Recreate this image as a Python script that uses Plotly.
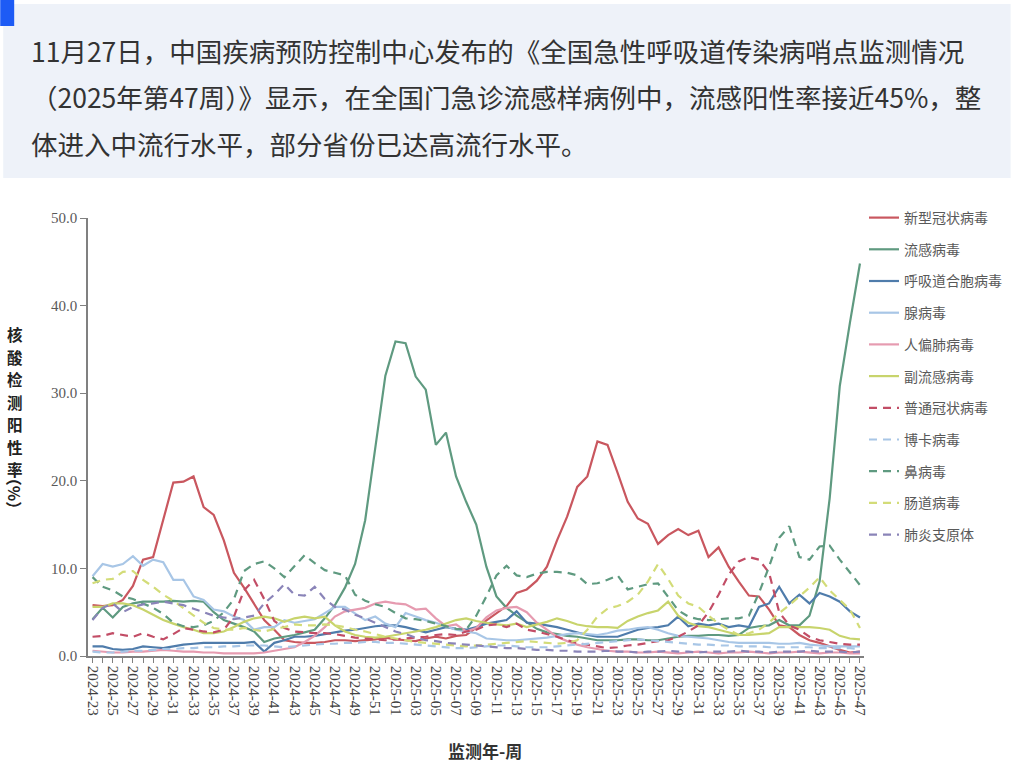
import plotly.graph_objects as go

weeks = ["2024-23","2024-24","2024-25","2024-26","2024-27","2024-28","2024-29","2024-30","2024-31","2024-32",
         "2024-33","2024-34","2024-35","2024-36","2024-37","2024-38","2024-39","2024-40","2024-41","2024-42",
         "2024-43","2024-44","2024-45","2024-46","2024-47","2024-48","2024-49","2024-50","2024-51","2024-52",
         "2025-01","2025-02","2025-03","2025-04","2025-05","2025-06","2025-07","2025-08","2025-09","2025-10",
         "2025-11","2025-12","2025-13","2025-14","2025-15","2025-16","2025-17","2025-18","2025-19","2025-20",
         "2025-21","2025-22","2025-23","2025-24","2025-25","2025-26","2025-27","2025-28","2025-29","2025-30",
         "2025-31","2025-32","2025-33","2025-34","2025-35","2025-36","2025-37","2025-38","2025-39","2025-40",
         "2025-41","2025-42","2025-43","2025-44","2025-45","2025-46","2025-47"]

covid = [5.8,5.7,5.8,6.4,8.0,11.0,11.3,15.5,19.8,19.9,
         20.5,17.0,16.1,13.2,9.5,7.8,6.0,4.1,3.0,1.8,
         1.6,1.5,1.5,1.6,1.8,1.8,1.7,1.8,1.9,2.1,
         1.9,1.8,1.7,2.0,2.2,2.0,2.3,2.4,3.2,4.1,
         4.9,5.7,7.2,7.6,8.6,10.2,13.2,15.9,19.3,20.5,
         24.5,24.1,20.9,17.6,15.7,15.1,12.8,13.8,14.5,13.8,
         14.3,11.3,12.4,10.2,8.5,6.9,6.8,5.3,3.5,3.3,
         2.4,1.8,1.5,1.1,0.7,0.4,0.5]

flu = [4.2,5.5,4.4,5.6,6.0,6.2,6.2,6.2,6.3,6.2,
       6.3,6.2,5.0,4.1,3.7,3.3,2.8,1.6,2.0,2.2,
       2.4,2.7,3.0,4.3,5.8,7.8,10.5,15.5,24.0,32.0,
       35.9,35.7,31.9,30.4,24.1,25.5,20.5,17.6,15.0,10.2,
       6.8,5.5,4.6,3.9,3.1,2.7,2.5,2.3,2.2,2.0,
       1.8,1.8,1.8,1.9,1.9,1.8,1.8,2.0,2.2,2.3,
       2.3,2.4,2.4,2.3,2.4,3.2,3.4,3.5,4.1,3.5,
       3.5,4.6,8.5,18.0,30.8,38.0,44.8]

rsv = [1.1,1.1,0.8,0.7,0.8,1.1,1.0,0.9,1.1,1.3,
       1.4,1.5,1.5,1.5,1.5,1.5,1.6,0.5,1.5,1.8,
       2.2,2.2,2.3,2.5,2.7,2.9,3.0,3.2,3.4,3.5,
       3.5,3.3,3.0,2.7,3.0,3.3,3.1,3.0,3.3,3.7,
       3.9,4.1,5.1,3.8,3.7,3.5,3.3,3.0,2.7,2.4,
       2.2,2.2,2.2,2.6,3.0,3.2,3.3,3.5,4.5,3.4,
       3.7,3.5,3.7,3.3,3.5,3.3,5.6,6.0,7.9,6.0,
       7.0,6.0,7.2,6.8,6.2,5.1,4.4]

adeno = [9.1,10.5,10.2,10.5,11.4,10.3,11.0,10.7,8.7,8.7,
         6.8,6.4,5.3,5.1,4.5,4.1,3.0,3.3,3.3,4.1,
         3.8,4.0,4.2,4.9,5.6,5.6,4.9,4.1,4.5,3.7,
         3.3,4.9,4.5,4.1,3.8,3.4,3.0,2.8,2.6,2.0,
         1.9,1.8,1.8,1.9,2.0,2.1,2.3,2.5,2.6,2.5,
         2.4,2.6,2.9,3.0,3.2,3.3,3.0,2.6,2.3,2.2,
         2.1,2.0,1.8,1.6,1.5,1.5,1.5,1.5,1.4,1.4,
         1.5,1.3,1.2,1.1,1.1,1.1,1.1]

hmpv = [0.6,0.5,0.4,0.4,0.5,0.5,0.6,0.7,0.6,0.5,
        0.5,0.4,0.4,0.3,0.3,0.3,0.3,0.4,0.6,0.8,
        1.0,1.6,2.3,3.3,4.5,5.1,5.3,5.5,6.0,6.2,
        6.0,5.9,5.3,5.4,4.3,3.4,3.6,2.8,3.2,4.4,
        5.2,5.5,5.6,5.0,3.8,3.0,2.2,1.7,1.3,1.0,
        0.8,0.6,0.5,0.5,0.4,0.4,0.5,0.4,0.3,0.4,
        0.5,0.4,0.3,0.4,0.4,0.5,0.4,0.3,0.4,0.4,
        0.5,0.4,0.3,0.4,0.4,0.3,0.3]

paraflu = [5.6,5.6,6.0,6.0,5.8,5.3,4.7,4.1,3.7,3.3,
           3.0,2.6,2.6,2.8,3.3,3.9,4.3,4.5,4.3,3.9,
           4.3,4.5,4.3,4.5,3.5,2.8,2.4,2.2,2.1,2.2,
           2.4,2.6,2.8,3.0,3.3,3.7,4.1,4.3,4.0,3.8,
           3.6,3.5,3.7,3.3,3.6,3.9,4.3,4.0,3.6,3.4,
           3.3,3.3,3.2,4.0,4.5,4.9,5.2,6.2,4.6,3.8,
           3.4,3.3,3.0,2.7,2.4,2.4,2.5,2.6,3.3,3.3,
           3.3,3.3,3.2,3.0,2.3,2.0,1.9]

hcov = [2.2,2.3,2.6,2.4,2.2,2.6,2.2,1.9,2.5,3.2,
        3.0,2.8,2.7,3.0,4.5,7.5,8.7,6.5,4.0,3.2,
        2.8,2.7,2.6,2.6,2.5,2.3,2.1,2.0,1.9,1.8,
        1.9,2.0,2.1,2.2,2.4,2.5,2.4,2.8,3.0,3.5,
        3.6,3.3,3.7,3.0,2.8,2.5,2.2,1.8,1.5,1.3,
        1.1,0.9,1.0,1.2,1.3,1.5,1.7,1.8,2.2,2.8,
        3.5,5.0,7.0,9.3,10.8,11.3,11.0,9.5,5.0,3.5,
        3.0,2.2,1.8,1.6,1.4,1.3,1.3]

boca = [0.5,0.4,0.4,0.5,0.6,0.6,0.7,0.8,0.8,0.9,
        0.9,1.0,1.0,1.1,1.1,1.2,1.2,1.2,1.1,1.0,
        1.1,1.2,1.3,1.4,1.4,1.5,1.5,1.6,1.6,1.5,
        1.5,1.4,1.3,1.2,1.1,1.0,0.9,0.9,1.0,1.1,
        1.2,1.2,1.1,1.0,1.0,1.0,1.1,1.2,1.3,1.4,
        1.5,1.6,1.7,1.8,1.9,1.8,1.7,1.6,1.5,1.4,
        1.3,1.3,1.2,1.2,1.1,1.1,1.1,1.0,1.0,1.0,
        1.0,1.0,0.9,0.9,0.9,0.9,0.8]

rhino = [9.0,7.9,7.5,6.8,6.5,6.0,5.5,4.8,3.8,3.4,
         3.3,3.5,4.0,5.0,6.5,9.7,10.5,10.8,10.0,9.0,
         10.2,11.5,10.6,9.8,9.5,9.2,7.0,6.3,5.9,5.6,
         4.9,4.3,4.2,4.0,3.7,3.4,3.1,3.0,4.6,6.8,
         9.2,10.3,9.2,9.0,9.4,9.6,9.6,9.5,9.2,8.2,
         8.3,8.7,9.2,7.6,7.9,8.2,8.3,6.8,5.2,4.5,
         4.2,4.1,4.2,4.3,4.3,4.6,7.2,10.2,13.5,14.8,
         11.3,11.0,12.5,12.6,11.0,9.6,8.1]

entero = [8.3,8.7,8.8,9.6,9.7,8.7,7.9,7.0,6.3,5.5,
          4.6,3.8,3.2,3.0,3.0,3.2,3.0,2.8,3.1,3.3,
          3.6,3.5,3.5,3.6,3.5,3.3,3.0,2.8,2.5,2.2,
          2.0,1.8,1.6,1.5,1.4,1.3,1.2,1.1,1.2,1.3,
          1.4,1.5,1.6,1.7,1.6,1.5,1.4,1.5,1.8,3.0,
          4.5,5.4,5.7,6.2,7.0,8.5,10.5,8.8,6.9,6.0,
          5.6,4.6,3.7,3.0,2.4,2.6,3.0,3.8,4.9,5.8,
          6.8,7.8,9.0,7.5,6.4,5.3,3.2]

myco = [4.1,5.5,6.0,5.0,5.6,5.9,6.0,6.2,6.0,5.8,
        5.4,5.0,4.6,4.4,4.2,4.4,4.6,6.0,7.0,8.2,
        7.0,6.9,7.9,6.5,5.6,5.3,4.7,4.3,3.8,3.3,
        2.8,2.5,2.1,1.8,1.7,1.5,1.4,1.3,1.2,1.1,
        1.0,0.9,0.9,0.8,0.7,0.7,0.6,0.6,0.5,0.5,
        0.5,0.6,0.5,0.5,0.4,0.5,0.5,0.6,0.5,0.5,
        0.4,0.5,0.5,0.5,0.6,0.5,0.5,0.4,0.5,0.5,
        0.5,0.6,0.5,0.5,0.5,0.4,0.5]

series_names = ["新型冠状病毒","流感病毒","呼吸道合胞病毒","腺病毒","人偏肺病毒","副流感病毒",
                "普通冠状病毒","博卡病毒","鼻病毒","肠道病毒","肺炎支原体"]
series_values = [covid, flu, rsv, adeno, hmpv, paraflu, hcov, boca, rhino, entero, myco]
series_colors = ["#c9575f","#5f9a80","#4f7cab","#a8c6e6","#e69bb0","#c8d46c",
                 "#c24d66","#a8c6e6","#5f9a80","#d3dc78","#8a84b8"]
series_dash = ["solid"]*6 + ["8px,6px"]*5

y_ticks = [0, 10, 20, 30, 40, 50]
y_ticktext = ["0.0", "10.0", "20.0", "30.0", "40.0", "50.0"]

intro_lines = ["11月27日，中国疾病预防控制中心发布的《全国急性呼吸道传染病哨点监测情况",
               "（2025年第47周）》显示，在全国门急诊流感样病例中，流感阳性率接近45%，整",
               "体进入中流行水平，部分省份已达高流行水平。"]
y_title_chars = list("核酸检测阳性率")

# pixel -> paper helpers
L, R, T, B = 88, 866, 218, 656
def px(x):
    return (x - L) / (R - L)
def py(y):
    return (B - y) / (B - T)

fig = go.Figure()
for k, (name, vals, col, dsh) in enumerate(zip(series_names, series_values, series_colors, series_dash)):
    fig.add_trace(go.Scatter(x=weeks, y=vals, name=name, mode="lines",
                             legendgroup="g%d" % k,
                             line=dict(color=col, width=2.2, dash=dsh)))

shapes = [
    dict(type="rect", xref="paper", yref="paper", x0=px(3), x1=px(1013), y0=py(178), y1=py(4),
         fillcolor="#eef2f9", line=dict(width=0), layer="below"),
    dict(type="rect", xref="paper", yref="paper", x0=px(0), x1=px(14), y0=py(26), y1=py(0),
         fillcolor="#1d5bf5", line=dict(width=0), layer="below"),
]

annotations = []
for t, yy in zip(intro_lines, [50, 97, 143]):
    annotations.append(dict(text=t, xref="paper", yref="paper", x=px(29), y=py(yy),
                            xanchor="left", yanchor="middle", showarrow=False,
                            font=dict(family="Noto Sans CJK SC", size=26.5, color="#333333")))

for k, ch in enumerate(y_title_chars):
    annotations.append(dict(text=ch, xref="paper", yref="paper",
                            x=px(15), y=py(334 + k * 22.5), xanchor="center", yanchor="middle",
                            showarrow=False,
                            font=dict(family="Noto Sans CJK SC", size=15.5, color="#222222", weight="bold")))
annotations.append(dict(text="（%）", xref="paper", yref="paper", textangle=90,
                        x=px(15), y=py(493), xanchor="center", yanchor="middle", showarrow=False,
                        font=dict(family="Noto Sans CJK SC", size=16, color="#222222", weight="bold")))
annotations.append(dict(text="监测年-周", xref="paper", yref="paper",
                        x=px(486), y=py(750), xanchor="center", yanchor="middle", showarrow=False,
                        font=dict(family="Noto Sans CJK SC", size=17, color="#333333", weight="bold")))

fig.update_layout(
    width=1019, height=773, autosize=False,
    margin=dict(l=L, r=1019 - R, t=T, b=773 - B),
    paper_bgcolor="white", plot_bgcolor="white",
    shapes=shapes, annotations=annotations,
    showlegend=True,
    legend=dict(x=px(866), y=py(202), xanchor="left", yanchor="top",
                bgcolor="rgba(0,0,0,0)", tracegroupgap=10.5,
                font=dict(family="Noto Sans CJK SC", size=14, color="#595959")),
    xaxis=dict(type="category", range=[-0.45, 76.4], tickmode="linear", tick0=0, dtick=1,
               ticklabelstep=2, tickangle=90, ticks="outside", ticklen=5, tickcolor="#808080",
               showline=True, linecolor="#808080", linewidth=1.5, showgrid=False, zeroline=False,
               tickfont=dict(family="Liberation Serif", size=15, color="#404040")),
    yaxis=dict(range=[0, 50], tickmode="array", tickvals=y_ticks, ticktext=y_ticktext,
               ticks="outside", ticklen=6, tickcolor="#808080",
               showline=True, linecolor="#808080", linewidth=1.5, showgrid=False, zeroline=False,
               tickfont=dict(family="Liberation Serif", size=15, color="#595959")),
)

fig.write_html("out.html")
